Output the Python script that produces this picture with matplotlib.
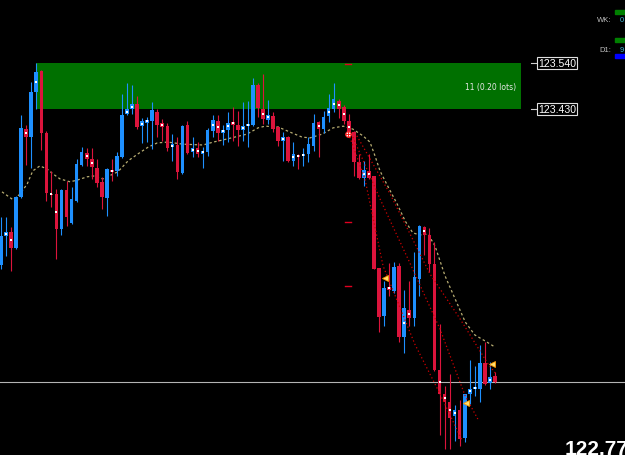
import matplotlib
matplotlib.use('Agg')
import matplotlib.pyplot as plt
import numpy as np

# candle data (USDJPY-like, M-something)
opens = [123.057, 123.127, 123.136, 123.098, 123.220, 123.382, 123.363, 123.471, 123.521, 123.373,
         123.227, 123.227, 123.143, 123.237, 123.158, 123.210, 123.296, 123.325, 123.311, 123.289,
         123.256, 123.217, 123.284, 123.282, 123.315, 123.418, 123.430, 123.442, 123.389, 123.397,
         123.401, 123.423, 123.397, 123.389, 123.339, 123.344, 123.277, 123.392, 123.327, 123.337,
         123.323, 123.327, 123.378, 123.401, 123.373, 123.380, 123.399, 123.392, 123.380, 123.389,
         123.392, 123.487, 123.430, 123.404, 123.413, 123.387, 123.354, 123.363, 123.306, 123.320,
         123.318, 123.323, 123.342, 123.399, 123.382, 123.413, 123.430, 123.449, 123.435, 123.401,
         123.375, 123.303, 123.265, 123.282, 123.270, 123.050, 122.935, 123.005, 122.995, 123.055,
         122.885, 122.950, 122.931, 123.024, 123.148, 123.129, 123.060, 122.806, 122.749, 122.730,
         122.696, 122.711, 122.644, 122.749, 122.761, 122.761, 122.823, 122.775, 122.792]
highs = [123.172, 123.172, 123.148, 123.222, 123.416, 123.392, 123.495, 123.540, 123.523, 123.378,
         123.282, 123.239, 123.239, 123.258, 123.244, 123.311, 123.339, 123.337, 123.337, 123.311,
         123.268, 123.289, 123.311, 123.327, 123.466, 123.492, 123.487, 123.461, 123.409, 123.411,
         123.447, 123.430, 123.406, 123.397, 123.370, 123.363, 123.392, 123.401, 123.363, 123.351,
         123.339, 123.385, 123.416, 123.416, 123.392, 123.423, 123.435, 123.425, 123.447, 123.449,
         123.504, 123.492, 123.514, 123.452, 123.423, 123.389, 123.375, 123.366, 123.351, 123.323,
         123.337, 123.363, 123.418, 123.401, 123.425, 123.466, 123.492, 123.454, 123.440, 123.418,
         123.378, 123.323, 123.306, 123.323, 123.270, 123.050, 123.019, 123.062, 123.064, 123.062,
         122.998, 123.019, 123.088, 123.153, 123.150, 123.146, 123.112, 122.916, 122.768, 122.797,
         122.723, 122.735, 122.749, 122.830, 122.816, 122.866, 122.873, 122.825, 122.802]
lows = [123.048, 123.079, 123.043, 123.095, 123.217, 123.296, 123.289, 123.430, 123.332, 123.210,
        123.196, 123.072, 123.129, 123.150, 123.155, 123.208, 123.294, 123.294, 123.263, 123.244,
        123.191, 123.174, 123.258, 123.270, 123.313, 123.416, 123.418, 123.382, 123.349, 123.351,
        123.334, 123.363, 123.354, 123.330, 123.306, 123.263, 123.275, 123.323, 123.315, 123.315,
        123.289, 123.318, 123.363, 123.354, 123.344, 123.351, 123.354, 123.342, 123.354, 123.339,
        123.389, 123.411, 123.394, 123.394, 123.375, 123.342, 123.306, 123.303, 123.294, 123.287,
        123.294, 123.303, 123.330, 123.315, 123.373, 123.399, 123.423, 123.409, 123.394, 123.366,
        123.270, 123.263, 123.246, 123.263, 123.048, 122.897, 122.911, 122.983, 122.990, 122.873,
        122.847, 122.911, 122.911, 122.983, 123.081, 123.041, 122.804, 122.651, 122.617, 122.617,
        122.637, 122.625, 122.634, 122.725, 122.744, 122.730, 122.770, 122.761, 122.775]
closes = [123.127, 123.136, 123.098, 123.220, 123.385, 123.363, 123.471, 123.519, 123.373, 123.229,
          123.225, 123.143, 123.237, 123.172, 123.215, 123.299, 123.327, 123.311, 123.291, 123.253,
          123.220, 123.287, 123.280, 123.318, 123.416, 123.430, 123.442, 123.387, 123.401, 123.404,
          123.428, 123.392, 123.387, 123.337, 123.346, 123.280, 123.389, 123.325, 123.337, 123.323,
          123.330, 123.380, 123.404, 123.373, 123.380, 123.397, 123.392, 123.380, 123.389, 123.394,
          123.487, 123.432, 123.406, 123.416, 123.382, 123.354, 123.363, 123.306, 123.323, 123.315,
          123.323, 123.346, 123.397, 123.382, 123.411, 123.432, 123.454, 123.430, 123.401, 123.375,
          123.303, 123.265, 123.284, 123.265, 123.048, 122.933, 123.002, 122.998, 123.052, 122.885,
          122.954, 122.931, 123.029, 123.150, 123.129, 123.060, 122.806, 122.749, 122.730, 122.692,
          122.711, 122.641, 122.749, 122.761, 122.766, 122.823, 122.773, 122.790, 122.778]

# candles that carry the little white mark
marked = [1, 2, 5, 7, 10, 11, 17, 18, 22, 25, 26, 28, 29, 32, 34, 38, 39, 40, 42, 43, 44, 45, 46,
          48, 49, 52, 53, 56, 58, 59, 60, 63, 65, 66, 67, 68, 69, 72, 73, 77, 80, 81, 84, 87, 88,
          89, 90, 93, 94, 97]

# moving average (dotted khaki)
ma_idx = [0.2, 2.4, 3.8, 5.2, 6.3, 7.7, 9.1, 10.3, 11.7, 13.7, 15.1, 17.1, 18.3, 20.2, 23.2, 25.2,
          27.2, 29.2, 31.0, 33.1, 36.1, 40.1, 42.1, 44.0, 46.4, 48.8, 51.0, 52.4, 55.0, 57.7, 59.7,
          61.3, 63.7, 65.9, 67.9, 69.8, 71.8, 73.2, 74.2, 75.2, 76.8, 78.6, 80.2, 81.7, 83.1, 84.7,
          86.1, 88.1, 90.1, 92.1, 94.0, 96.4, 98.0]
ma_val = [123.232, 123.213, 123.227, 123.251, 123.282, 123.294, 123.287, 123.275, 123.263, 123.256,
          123.260, 123.268, 123.270, 123.263, 123.280, 123.306, 123.323, 123.339, 123.349, 123.351,
          123.346, 123.344, 123.351, 123.356, 123.363, 123.370, 123.385, 123.389, 123.387, 123.373,
          123.363, 123.361, 123.370, 123.385, 123.389, 123.382, 123.366, 123.351, 123.318, 123.282,
          123.244, 123.203, 123.162, 123.134, 123.129, 123.131, 123.103, 123.031, 122.976, 122.921,
          122.890, 122.873, 122.861]

# red dotted lines
l1_idx = [69.2, 72.2, 75.8, 82.1, 87.1, 91.5]
l1_val = [123.363, 123.263, 123.055, 122.868, 122.749, 122.637]
l2_idx = [69.8, 75.2, 81.2, 87.1, 92.1, 94.6]
l2_val = [123.363, 123.215, 123.060, 122.904, 122.744, 122.689]
l3_idx = [70.6, 77.2, 85.1, 91.1, 96.6, 98.2]
l3_val = [123.366, 123.227, 123.036, 122.928, 122.821, 122.797]

arrow_idx = [76.2, 92.3, 97.4]
arrow_val = [123.026, 122.727, 122.821]

dash_val = [123.538, 123.160, 123.007]
levels = [123.540, 123.430]
zone_text = '11 (0.20 lots)'
bid = 122.778

n = len(opens)
x = np.arange(n)
o = np.array(opens); h = np.array(highs); l = np.array(lows); c = np.array(closes)
up = c > o
BLUE = '#1e90ff'
RED = '#dc143c'
cols = np.where(up, BLUE, RED)

fig = plt.figure(figsize=(6.25, 4.56), dpi=100, facecolor='black')
ax = fig.add_axes([0, 0, 1, 1])
ax.set_facecolor('black')
ax.set_xlim(-0.2, 123.8)
ax.set_ylim(122.603, 123.693)
ax.axis('off')

# order zone
ax.fill_between([6.95, 103.2], levels[1], levels[0], color='#007000', lw=0, zorder=1)
ax.text(97.2, (levels[0] + levels[1]) / 2, zone_text, color='#e8e8e8', fontsize=5.5,
        family=['Liberation Sans Narrow', 'DejaVu Sans'], ha='center', va='center', zorder=2)

# bid line
ax.axhline(bid, color='#b4b4b4', lw=0.8, zorder=1)

# MA
ax.plot(ma_idx, ma_val, color='#b8ad72', lw=0.9, ls=(0, (2, 2)), zorder=2)

# candles
ax.vlines(x, l, h, colors=cols, lw=0.8, zorder=3)
ax.bar(x, np.maximum(np.abs(c - o), 0.0025), bottom=np.minimum(o, c), width=0.72,
       color=cols, lw=0, zorder=4)
mk = np.array(marked)
ax.plot(mk, (o[mk] + c[mk]) / 2, 's', color='white', ms=1.5, mew=0, zorder=5)

# trend lines
for xi, yi in [(l1_idx, l1_val), (l2_idx, l2_val), (l3_idx, l3_val)]:
    ax.plot(xi, yi, color='#d00000', lw=0.9, ls=(0, (1, 2)), zorder=5)

# markers
ax.plot(arrow_idx, arrow_val, '<', ms=4, mfc='#ffe070', mec='#ff9900', mew=0.6, zorder=6)
ax.plot([68.8], [123.370], 'o', ms=4, mfc='white', mec='#ff2020', mew=0.8, zorder=6)
ax.plot([68.8], [123.370], '+', ms=4, color='#ff2020', mew=0.7, zorder=7)
for v in dash_val:
    ax.plot([68.3, 69.5], [v, v], color='#e00020', lw=1.0, zorder=6)

# price level labels
for v in levels:
    ax.plot([105.2, 106.9], [v, v], color='#d0d0d0', lw=0.8, zorder=6)
    ax.text(106.6, v, '%.3f' % v, color='white', fontsize=7.6, family='Liberation Sans',
            ha='left', va='center', zorder=7,
            bbox=dict(facecolor='black', edgecolor='#e0e0e0', lw=0.8, pad=0.6))

# top right info panel
fig.text(597 / 625, 1 - 21 / 456, 'WK:', color='#c0c0c0', fontsize=5.5, family='Liberation Sans', va='center')
fig.text(620 / 625, 1 - 21 / 456, '0', color='#40b8d8', fontsize=5.5, family='Liberation Sans', va='center')
fig.text(599 / 625, 1 - 50 / 456, 'D1:', color='#c0c0c0', fontsize=5.5, family='Liberation Sans', va='center')
fig.text(620 / 625, 1 - 50 / 456, '9', color='#40b8d8', fontsize=5.5, family='Liberation Sans', va='center')
for y0, col in [(11, '#008000'), (39, '#008000'), (55, '#0000ff')]:
    fig.patches.append(plt.Rectangle((615 / 625, 1 - (y0 + 4) / 456), 10 / 625, 4 / 456,
                                     transform=fig.transFigure, color=col, figure=fig))

# big bid price (cut by the window edge, as in the terminal)
fig.text(565 / 625, 1 / 456, '%.2f' % (np.floor(bid * 100) / 100), color='white', fontsize=15,
         fontweight='bold', family='Liberation Sans', ha='left', va='baseline')

fig.savefig('out.png', dpi=100, facecolor='black')
